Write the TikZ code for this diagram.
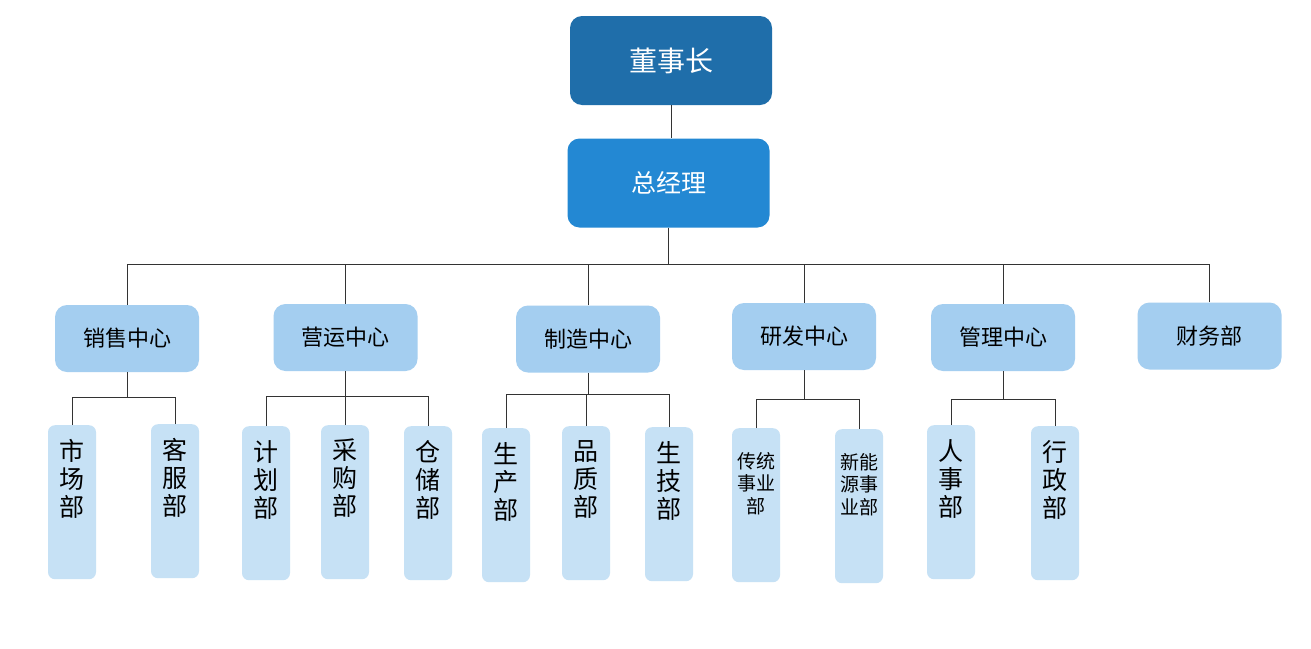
\documentclass[tikz,border=0pt]{standalone}
\usepackage{fontspec}
\setmainfont{Noto Sans CJK SC}
\begin{document}
\begin{tikzpicture}[x=1pt,y=-1pt,
  top/.style={rounded corners=12pt, minimum width=202pt, minimum height=89pt, text=white, inner sep=0pt},
  ctr/.style={rounded corners=12pt, fill=midblue, minimum width=144pt, minimum height=67pt, inner sep=0pt, font=\fontsize{22}{24}\selectfont},
  sub/.style={rounded corners=7pt, fill=lightblue, minimum width=48pt, minimum height=154pt, anchor=north, inner sep=0pt},
  subtxt/.style={anchor=north, align=center, inner sep=0pt, font=\fontsize{25}{28}\selectfont},
  smalltxt/.style={anchor=north, align=center, inner sep=0pt, font=\fontsize{19}{22.5}\selectfont},
  conn/.style={draw=linegray, line width=0.9pt}]
\definecolor{darkblue}{HTML}{1F6EAA}
\definecolor{blue2}{HTML}{2388D3}
\definecolor{midblue}{HTML}{A4CEF0}
\definecolor{lightblue}{HTML}{C6E1F5}
\definecolor{linegray}{HTML}{333333}
\useasboundingbox (0,0) rectangle (1311,648);
\fill[white] (0,0) rectangle (1311,648);

\node[top, fill=darkblue, font=\fontsize{28}{30}\selectfont] (dsz) at (671,60.5) {董事长};
\node[top, fill=blue2, font=\fontsize{25}{28}\selectfont] (zjl) at (668.5,183) {总经理};

\node[ctr] (xs) at (127,338.5) {销售中心};
\node[ctr] (yy) at (345.5,337.5) {营运中心};
\node[ctr] (zz) at (588,339) {制造中心};
\node[ctr] (yf) at (804,336.5) {研发中心};
\node[ctr] (gl) at (1003,337.5) {管理中心};
\node[ctr] (cw) at (1209.5,336) {财务部};

\node[sub] (sc1) at (72,425) {};
\node[sub] (kf) at (175,424) {};
\node[sub] (jh) at (266,426) {};
\node[sub] (cg) at (345,425) {};
\node[sub] (cc) at (428,426) {};
\node[sub] (scb) at (506,428) {};
\node[sub] (pz) at (586,426) {};
\node[sub] (sj) at (669,427) {};
\node[sub] (ct) at (756,428) {};
\node[sub] (xny) at (859,429) {};
\node[sub] (rs) at (951,425) {};
\node[sub] (xz) at (1055,426) {};

\node[subtxt] at ([yshift=-14pt]sc1.north) {市\\场\\部};
\node[subtxt] at ([yshift=-14pt]kf.north) {客\\服\\部};
\node[subtxt] at ([yshift=-14pt]jh.north) {计\\划\\部};
\node[subtxt] at ([yshift=-14pt]cg.north) {采\\购\\部};
\node[subtxt] at ([yshift=-14pt]cc.north) {仓\\储\\部};
\node[subtxt] at ([yshift=-14pt]scb.north) {生\\产\\部};
\node[subtxt] at ([yshift=-14pt]pz.north) {品\\质\\部};
\node[subtxt] at ([yshift=-14pt]sj.north) {生\\技\\部};
\node[smalltxt] at ([yshift=-24pt]ct.north) {传统\\事业\\部};
\node[smalltxt] at ([yshift=-24pt]xny.north) {新能\\源事\\业部};
\node[subtxt] at ([yshift=-14pt]rs.north) {人\\事\\部};
\node[subtxt] at ([yshift=-14pt]xz.north) {行\\政\\部};

% main connectors
\draw[conn] (dsz.south) -- (dsz.south|-zjl.north);
\coordinate (bus) at (668.5,264);
\draw[conn] (zjl.south) -- (bus);
\foreach \n in {xs,yy,zz,yf,gl,cw} { \draw[conn] (\n.north) |- (bus); }

% branch buses
\draw[conn] (xs.south) -- ++(0,25) coordinate (bxs);
\draw[conn] (sc1.north) |- (bxs); \draw[conn] (kf.north) |- (bxs);
\draw[conn] (yy.south) -- ++(0,25) coordinate (byy);
\draw[conn] (jh.north) |- (byy); \draw[conn] (cg.north) |- (byy); \draw[conn] (cc.north) |- (byy);
\draw[conn] (zz.south) -- ++(0,22) coordinate (bzz);
\draw[conn] (scb.north) |- (bzz); \draw[conn] (pz.north) |- (bzz); \draw[conn] (sj.north) |- (bzz);
\draw[conn] (yf.south) -- ++(0,29) coordinate (byf);
\draw[conn] (ct.north) |- (byf); \draw[conn] (xny.north) |- (byf);
\draw[conn] (gl.south) -- ++(0,28) coordinate (bgl);
\draw[conn] (rs.north) |- (bgl); \draw[conn] (xz.north) |- (bgl);
\end{tikzpicture}
\end{document}
